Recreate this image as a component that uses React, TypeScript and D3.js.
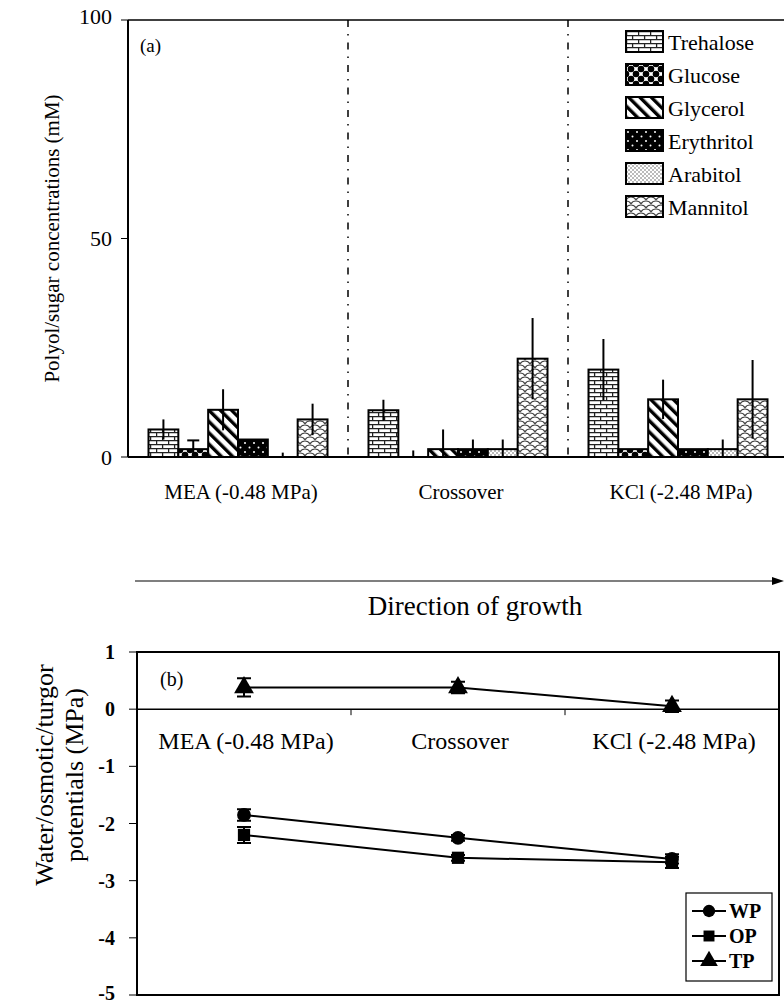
import * as d3 from 'd3';

// categories along the direction of growth
const categories = ['MEA (-0.48 MPa)', 'Crossover', 'KCl (-2.48 MPa)'];

// panel (a) polyols / sugars, mM
const sugars = ['Trehalose', 'Glucose', 'Glycerol', 'Erythritol', 'Arabitol', 'Mannitol'];
const trehalose = [6.3, 10.7, 20];
const trehaloseErr = [2.3, 2.4, 7];
const glucose = [1.8, 0, 1.8];
const glucoseErr = [2, 1.5, 0];
const glycerol = [10.8, 1.8, 13.2];
const glycerolErr = [4.7, 4.5, 4.5];
const erythritol = [4, 1.8, 1.8];
const erythritolErr = [0, 2.2, 0];
const arabitol = [0, 1.8, 1.8];
const arabitolErr = [1, 2.2, 2.2];
const mannitol = [8.6, 22.5, 13.2];
const mannitolErr = [3.6, 9.3, 9];
const concTicks = [0, 50, 100];

// panel (b) potentials, MPa
const potentials = ['WP', 'OP', 'TP'];
const wp = [-1.85, -2.25, -2.62];
const wpErr = [0.1, 0.05, 0.08];
const op = [-2.2, -2.6, -2.68];
const opErr = [0.14, 0.05, 0.1];
const tp = [0.38, 0.38, 0.05];
const tpErr = [0.16, 0.1, 0.1];
const potTicks = [1, 0, -1, -2, -3, -4, -5];

const width = 784;
const height = 1004;
const serif = "'Liberation Serif', 'Times New Roman', serif";

const sugarVals = [trehalose, glucose, glycerol, erythritol, arabitol, mannitol];
const sugarErrs = [trehaloseErr, glucoseErr, glycerolErr, erythritolErr, arabitolErr, mannitolErr];
const potVals = [wp, op, tp];
const potErrs = [wpErr, opErr, tpErr];

// panel a scales
const yA = d3.scaleLinear().domain([0, 100]).range([457, 20]);
const xA = d3.scaleBand().domain(categories).range([128, 788]);
const xA1 = d3.scaleBand().domain(sugars).range([20.5, 199.5]);

// panel b scales
const xB = d3.scaleBand().domain(categories).range([137, 779]);
const yB = d3.scaleLinear().domain([-5, 1]).range([995, 652]);

const symbolTypes = [d3.symbolCircle, d3.symbolSquare, d3.symbolTriangle];
const symbolSizes = [150, 150, 170];

const Patterns = () => (
  <defs>
    <pattern id="pat-0" width={12} height={8} patternUnits="userSpaceOnUse">
      <rect width={12} height={8} fill="#fff" />
      <path d="M0,0.6H12M0,4.6H12M0.6,0V4.6M6.6,4.6V8" stroke="#222" strokeWidth={1.3} fill="none" />
    </pattern>
    <pattern id="pat-1" width={10} height={10} patternUnits="userSpaceOnUse">
      <rect width={10} height={10} fill="#fff" />
      {[[0, 0], [10, 0], [0, 10], [10, 10], [5, 5]].map(([cx, cy], i) => (
        <circle key={i} cx={cx} cy={cy} r={3.3} fill="#000" />
      ))}
    </pattern>
    <pattern id="pat-2" width={8} height={8} patternUnits="userSpaceOnUse" patternTransform="rotate(-45)">
      <rect width={8} height={8} fill="#fff" />
      <rect width={3.4} height={8} fill="#000" />
    </pattern>
    <pattern id="pat-3" width={9} height={9} patternUnits="userSpaceOnUse">
      <rect width={9} height={9} fill="#000" />
      <circle cx={2} cy={2} r={1} fill="#fff" />
      <circle cx={6.5} cy={6.5} r={1} fill="#fff" />
    </pattern>
    <pattern id="pat-4" width={4} height={4} patternUnits="userSpaceOnUse">
      <rect width={4} height={4} fill="#fff" />
      <circle cx={1} cy={1} r={0.75} fill="#555" />
      <circle cx={3} cy={3} r={0.75} fill="#555" />
    </pattern>
    <pattern id="pat-5" width={10} height={8} patternUnits="userSpaceOnUse">
      <rect width={10} height={8} fill="#fff" />
      <path
        d="M0,4C2,0 8,0 10,4M-5,8C-3,4 3,4 5,8M5,8C7,4 13,4 15,8M-5,0C-3,-4 3,-4 5,0M5,0C7,-4 13,-4 15,0"
        stroke="#444"
        strokeWidth={1.2}
        fill="none"
      />
    </pattern>
  </defs>
);

const PanelA = () => {
  const base = yA(0);
  return (
    <g>
      {/* separators */}
      {categories.slice(1).map(c => (
        <line key={c} x1={xA(c)} x2={xA(c)} y1={yA(100)} y2={base}
          stroke="#000" strokeWidth={1.5} strokeDasharray="7,7,1.5,7" />
      ))}
      {/* bars */}
      {categories.map((c, ci) =>
        sugars.map((s, si) => {
          const v = sugarVals[si][ci];
          const e = sugarErrs[si][ci];
          const x = (xA(c) as number) + (xA1(s) as number);
          const w = xA1.bandwidth();
          const cx = x + w / 2;
          return (
            <g key={c + s}>
              {v > 0 && (
                <rect x={x} y={yA(v)} width={w} height={base - yA(v)}
                  fill={`url(#pat-${si})`} stroke="#000" strokeWidth={2} />
              )}
              {e > 0 && (
                <line x1={cx} x2={cx} y1={yA(v + e)} y2={Math.min(base, yA(v - e))}
                  stroke="#000" strokeWidth={2} />
              )}
              {e > 0 && ci === 0 && s === 'Glucose' && (
                <line x1={cx - 6} x2={cx + 6} y1={yA(v + e)} y2={yA(v + e)} stroke="#000" strokeWidth={2} />
              )}
            </g>
          );
        })
      )}
      {/* axes */}
      <line x1={128} x2={784} y1={yA(100)} y2={yA(100)} stroke="#000" strokeWidth={1.5} />
      <line x1={128} x2={128} y1={yA(100)} y2={base} stroke="#000" strokeWidth={2} />
      <line x1={128} x2={784} y1={base} y2={base} stroke="#000" strokeWidth={2} />
      {concTicks.map(t => (
        <g key={t}>
          <line x1={121} x2={128} y1={yA(t)} y2={yA(t)} stroke="#000" strokeWidth={1} />
          <text x={112} y={t === 100 ? yA(t) - 4 : yA(t)} dy="0.35em" textAnchor="end" fontSize={22}>{t}</text>
        </g>
      ))}
      <text transform={`translate(52,${yA(50)}) rotate(-90)`} textAnchor="middle" dy="0.35em" fontSize={21}>
        Polyol/sugar concentrations (mM)
      </text>
      <text x={140} y={52} fontSize={19}>(a)</text>
      {/* legend */}
      {sugars.map((s, i) => (
        <g key={s} transform={`translate(626,${31 + i * 33})`}>
          <rect width={37} height={21} fill={`url(#pat-${i})`} stroke="#000" strokeWidth={2} />
          <text x={42} y={11} dy="0.35em" fontSize={22}>{s}</text>
        </g>
      ))}
      {/* category labels */}
      {categories.map(c => (
        <text key={c} x={(xA(c) as number) + xA.bandwidth() / 2 + 3} y={492} dy="0.35em"
          textAnchor="middle" fontSize={21}>{c}</text>
      ))}
    </g>
  );
};

const PanelB = () => {
  const cxOf = (c: string) => (xB(c) as number) + xB.bandwidth() / 2;
  const line = d3.line<number>().x((_, i) => cxOf(categories[i])).y(d => yB(d));
  return (
    <g>
      <rect x={137} y={652} width={642} height={343} fill="none" stroke="#000" strokeWidth={2} />
      <line x1={137} x2={779} y1={yB(0)} y2={yB(0)} stroke="#000" strokeWidth={1.5} />
      {categories.slice(1).map(c => (
        <line key={c} x1={xB(c)} x2={xB(c)} y1={yB(0)} y2={yB(0) + 6} stroke="#000" strokeWidth={1} />
      ))}
      {potTicks.map(t => (
        <g key={t}>
          <line x1={129} x2={137} y1={yB(t)} y2={yB(t)} stroke="#000" strokeWidth={1} />
          <text x={115} y={t === -5 ? yB(t) - 2 : yB(t)} dy="0.35em" textAnchor="end" fontSize={20} fontWeight="bold">{t}</text>
        </g>
      ))}
      {categories.map(c => (
        <text key={c} x={cxOf(c) + 2} y={741} dy="0.35em" textAnchor="middle" fontSize={24}>{c}</text>
      ))}
      <text x={160} y={686} fontSize={20}>(b)</text>
      <text transform="translate(44,775) rotate(-90)" textAnchor="middle" dy="0.35em" fontSize={26}>
        Water/osmotic/turgor
      </text>
      <text transform="translate(74,775) rotate(-90)" textAnchor="middle" dy="0.35em" fontSize={26}>
        potentials (MPa)
      </text>
      {potentials.map((p, pi) => {
        const sym = d3.symbol().type(symbolTypes[pi]).size(symbolSizes[pi]);
        return (
          <g key={p}>
            <path d={line(potVals[pi]) as string} fill="none" stroke="#000" strokeWidth={2} />
            {potVals[pi].map((v, ci) => {
              const cx = cxOf(categories[ci]);
              const e = potErrs[pi][ci];
              return (
                <g key={ci}>
                  <path d={`M${cx},${yB(v + e)}V${yB(v - e)}M${cx - 7},${yB(v + e)}H${cx + 7}M${cx - 7},${yB(v - e)}H${cx + 7}`}
                    stroke="#000" strokeWidth={2} fill="none" />
                  <path d={sym() as string} transform={`translate(${cx},${yB(v)})`} fill="#000" />
                </g>
              );
            })}
          </g>
        );
      })}
      {/* legend */}
      <rect x={686} y={893} width={86} height={88} fill="#fff" stroke="#000" strokeWidth={1.2} />
      {potentials.map((p, pi) => {
        const sym = d3.symbol().type(symbolTypes[pi]).size(symbolSizes[pi] * 0.8);
        const y = 911 + pi * 25;
        return (
          <g key={p}>
            <line x1={692} x2={726} y1={y} y2={y} stroke="#000" strokeWidth={2} />
            <path d={sym() as string} transform={`translate(709,${y})`} fill="#000" />
            <text x={729} y={y} dy="0.35em" fontSize={20} fontWeight="bold">{p}</text>
          </g>
        );
      })}
    </g>
  );
};

const App = () => (
  <svg width={width} height={height}
    style={{ position: 'absolute', left: 0, top: 0, background: '#fff', fontFamily: serif }}>
    <Patterns />
    <rect width={width} height={height} fill="#fff" />
    <PanelA />
    {/* direction of growth arrow */}
    <line x1={135} x2={776} y1={581} y2={581} stroke="#000" strokeWidth={1.2} />
    <path d="M784,581L772,577L772,585Z" fill="#000" />
    <text x={475} y={606} dy="0.35em" textAnchor="middle" fontSize={27}>Direction of growth</text>
    <PanelB />
  </svg>
);

export default App;
